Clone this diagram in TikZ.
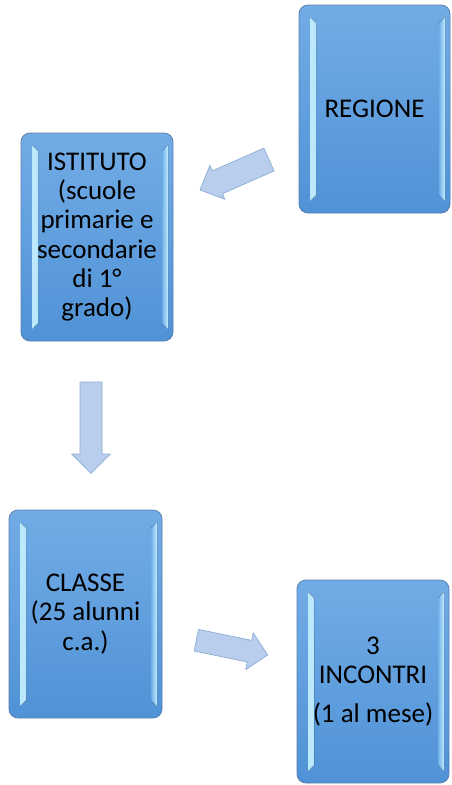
\documentclass[tikz,border=0pt]{standalone}
\usepackage{fontspec}
\setmainfont{Carlito}
\definecolor{boxtop}{RGB}{114,172,230}
\definecolor{boxbot}{RGB}{80,146,214}
\definecolor{boxline}{RGB}{88,128,176}
\definecolor{glow}{RGB}{196,238,255}
\definecolor{boxmid}{RGB}{110,175,232}
\definecolor{arrowfill}{RGB}{184,206,236}
\definecolor{arrowline}{RGB}{140,172,214}
\tikzset{
  blk/.style={draw=boxline, line width=0.8pt, rounded corners=9pt,
    top color=boxtop, bottom color=boxbot, inner sep=0pt, align=center,
    font=\fontsize{27}{29.3}\selectfont,
    path picture={
      \fill[left color=glow, right color=boxmid, sharp corners]
        ([xshift=11pt,yshift=-12pt]path picture bounding box.north west) --
        ([xshift=17pt,yshift=-18pt]path picture bounding box.north west) --
        ([xshift=17pt,yshift=18pt]path picture bounding box.south west) --
        ([xshift=11pt,yshift=12pt]path picture bounding box.south west) -- cycle;
      \fill[left color=boxmid, right color=glow, sharp corners]
        ([xshift=-11pt,yshift=-18pt]path picture bounding box.north east) --
        ([xshift=-5pt,yshift=-12pt]path picture bounding box.north east) --
        ([xshift=-5pt,yshift=12pt]path picture bounding box.south east) --
        ([xshift=-11pt,yshift=18pt]path picture bounding box.south east) -- cycle;
    }},
  blockarrow/.style={fill=arrowfill, draw=arrowline, line width=0.7pt, line join=round}
}
\begin{document}
\begin{tikzpicture}[x=1pt,y=-1pt]
\useasboundingbox (0,0) rectangle (451,785);
\node[blk, minimum width=151pt, minimum height=208pt] (reg) at (374.5,109) {REGIONE};
\node[blk, minimum width=152pt, minimum height=208pt] (ist) at (97,237)
  {ISTITUTO\\(scuole\\primarie e\\secondarie\\di 1°\\grado)};
\node[blk, minimum width=153pt, minimum height=208pt] (cla) at (85.5,614)
  {CLASSE\\(25 alunni\\c.a.)};
\node[blk, minimum width=152pt, minimum height=203pt] (inc) at (373,681.5)
  {3\\INCONTRI\\[10pt](1 al mese)};
% block arrows
\draw[blockarrow] (263.9,148.1) -- (212.3,170.9) -- (209.9,165.3) -- (200,190)
  -- (224.9,199.3) -- (222.5,193.7) -- (274.1,170.9) -- cycle;
\draw[blockarrow] (80,382) -- (80,454) -- (71.5,454) -- (91,473.3)
  -- (110.5,454) -- (102,454) -- (102,382) -- cycle;
\draw[blockarrow] (198.5,629.4) -- (251.7,640.4) -- (253.3,632.8) -- (267.7,655.0)
  -- (245.7,669.6) -- (247.3,662.0) -- (194.1,651.0) -- cycle;
\end{tikzpicture}
\end{document}
